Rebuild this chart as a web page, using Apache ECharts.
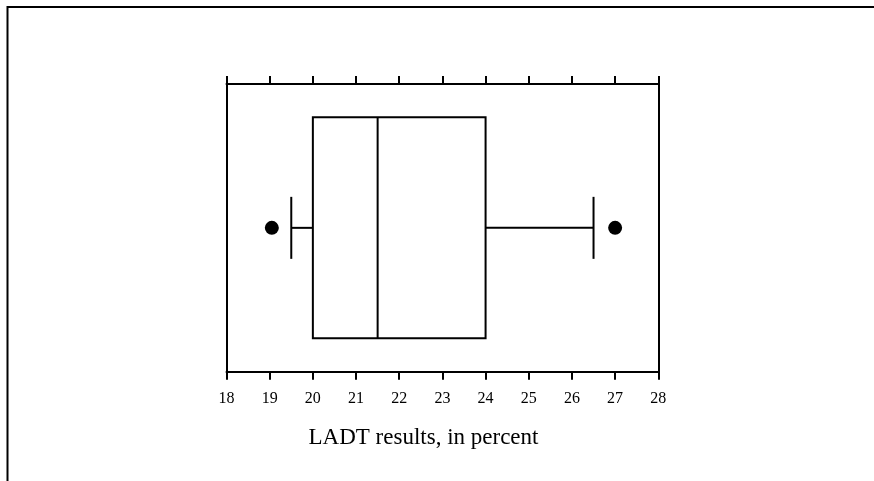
<!DOCTYPE html>
<html>
<head>
<meta charset="utf-8">
<script src="https://cdn.jsdelivr.net/npm/echarts@6/dist/echarts.min.js"></script>
<style>
  html, body { margin: 0; padding: 0; background: #fff; }
  #chart { width: 874px; height: 481px; }
</style>
</head>
<body>
<div id="chart"></div>
<script>
// Box summary of LADT results (percent): lower whisker, Q1, median, Q3, upper whisker
const boxStats = [19.5, 20.0, 21.5, 24.0, 26.5];
// Individual values beyond the whiskers
const outliers = [19.05, 27.0];
// Axis range and tick labels
const xTicks = [18, 19, 20, 21, 22, 23, 24, 25, 26, 27, 28];
const axisTitle = 'LADT results, in percent';

const FONT = '"Liberation Serif", "Times New Roman", serif';
const INK = '#000';

const chart = echarts.init(document.getElementById('chart'), null, { renderer: 'canvas' });

const xBase = {
  type: 'value',
  min: xTicks[0],
  max: xTicks[xTicks.length - 1],
  interval: 1,
  splitLine: { show: false },
  axisLine: { show: true, onZero: false, lineStyle: { color: INK, width: 2 } },
  axisTick: { show: true, inside: false, length: 8, lineStyle: { color: INK, width: 2 } }
};

chart.setOption({
  animation: false,
  grid: { left: 226.5, right: 215.7, top: 84, bottom: 109.3, containLabel: false },
  xAxis: [
    Object.assign({}, xBase, {
      position: 'bottom',
      axisLabel: { show: true, color: INK, fontFamily: FONT, fontSize: 16, margin: 19 }
    }),
    Object.assign({}, xBase, {
      position: 'top',
      axisLabel: { show: false }
    })
  ],
  yAxis: [
    {
      type: 'value', min: 0, max: 1, position: 'left',
      axisLine: { show: true, lineStyle: { color: INK, width: 2 } },
      axisTick: { show: false }, axisLabel: { show: false }, splitLine: { show: false }
    },
    {
      type: 'value', min: 0, max: 1, position: 'right',
      axisLine: { show: true, lineStyle: { color: INK, width: 2 } },
      axisTick: { show: false }, axisLabel: { show: false }, splitLine: { show: false }
    }
  ],
  graphic: [
    {
      type: 'polyline',
      shape: { points: [[7.5, 481], [7.5, 7], [874, 7]] },
      style: { stroke: INK, lineWidth: 2, fill: null }
    },
    {
      type: 'text',
      x: 423.5, y: 438,
      style: {
        text: axisTitle, font: '23px ' + FONT, fill: INK,
        align: 'center', verticalAlign: 'middle'
      }
    }
  ],
  series: [
    {
      type: 'custom',
      xAxisIndex: 0, yAxisIndex: 0,
      data: [boxStats],
      renderItem: function (params, api) {
        const lo = api.value(0), q1 = api.value(1), med = api.value(2),
              q3 = api.value(3), hi = api.value(4);
        const yc = 0.5;
        const pLo = api.coord([lo, yc]), pQ1 = api.coord([q1, yc]),
              pMed = api.coord([med, yc]), pQ3 = api.coord([q3, yc]),
              pHi = api.coord([hi, yc]);
        const cy = pQ1[1];
        const boxHalf = 110.5, capHalf = 31;
        const st = { stroke: INK, lineWidth: 2, fill: null };
        return {
          type: 'group',
          children: [
            { type: 'rect', shape: { x: pQ1[0], y: cy - boxHalf, width: pQ3[0] - pQ1[0], height: 2 * boxHalf }, style: st },
            { type: 'line', shape: { x1: pMed[0], y1: cy - boxHalf, x2: pMed[0], y2: cy + boxHalf }, style: st },
            { type: 'line', shape: { x1: pLo[0], y1: cy, x2: pQ1[0], y2: cy }, style: st },
            { type: 'line', shape: { x1: pQ3[0], y1: cy, x2: pHi[0], y2: cy }, style: st },
            { type: 'line', shape: { x1: pLo[0], y1: cy - capHalf, x2: pLo[0], y2: cy + capHalf }, style: st },
            { type: 'line', shape: { x1: pHi[0], y1: cy - capHalf, x2: pHi[0], y2: cy + capHalf }, style: st }
          ]
        };
      }
    },
    {
      type: 'scatter',
      xAxisIndex: 0, yAxisIndex: 0,
      symbol: 'circle',
      symbolSize: 14,
      itemStyle: { color: INK, opacity: 1 },
      data: outliers.map(v => [v, 0.5])
    }
  ]
});
</script>
</body>
</html>
